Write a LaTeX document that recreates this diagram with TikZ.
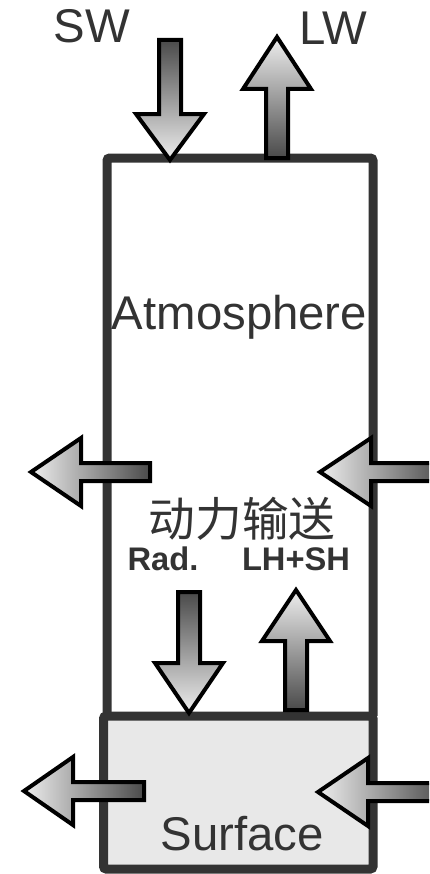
\documentclass[tikz,border=0pt]{standalone}
\usepackage{fontspec}
\setmainfont{Liberation Sans}
\newfontfamily\cjk{Noto Sans CJK SC}
\definecolor{boxc}{HTML}{333333}
\definecolor{txtc}{HTML}{333333}
\definecolor{surff}{HTML}{E8E8E8}
\definecolor{dk}{HTML}{4A4A4A}
\definecolor{lt}{HTML}{EEEEEE}
\tikzset{
  boxline/.style={draw=boxc, line width=6.75pt, rounded corners=2pt},
  arr/.style={draw=black, line width=3pt, line join=miter},
  lbl/.style={text=txtc, inner sep=0pt, font=\fontsize{35.5}{40}\selectfont},
  blbl/.style={text=txtc, inner sep=0pt, font=\fontsize{24.5}{28}\selectfont\bfseries},
}
% vertical arrow: cx, tail y, tip y, head base y ; shaft half 11, head half 34
\newcommand\varrowdn[4]{\draw[arr, top color=dk, bottom color=lt] (#1-11,#2) -- (#1+11,#2) -- (#1+11,#4) -- (#1+34,#4) -- (#1,#3) -- (#1-34,#4) -- (#1-11,#4) -- cycle;}
\newcommand\varrowup[4]{\draw[arr, bottom color=dk, top color=lt] (#1-11,#2) -- (#1+11,#2) -- (#1+11,#4) -- (#1+34,#4) -- (#1,#3) -- (#1-34,#4) -- (#1-11,#4) -- cycle;}
% horizontal left-pointing arrow: cy, tail x, tip x, head base x ; shaft half 9, head half 34
\newcommand\harrowlf[4]{\draw[arr, right color=dk, left color=lt] (#2,#1-9) -- (#2,#1+9) -- (#4,#1+9) -- (#4,#1+34) -- (#3,#1) -- (#4,#1-34) -- (#4,#1-9) -- cycle;}
\begin{document}
\begin{tikzpicture}[x=0.75pt, y=-0.75pt]
\useasboundingbox (0,0) rectangle (429,874);
\clip (0,0) rectangle (429,874);
% boxes
\draw[boxline] (107,716) -- (107,158) -- (373,158) -- (373,716);
\draw[boxline, fill=surff] (103.5,716) rectangle (373,869);
% texts
\node[lbl, anchor=base] (sw) at (92,43) {SW};
\node[lbl, anchor=base] (lw) at (333,45) {LW};
\node[lbl, anchor=base] (atm) at (239.5,329) {Atmosphere};
\node[lbl, anchor=base] (surf) at (242,850) {Surface};
\node[text=txtc, inner sep=0pt, font=\fontsize{35}{40}\selectfont\cjk] (dyn) at (242,519) {动力输送};
\node[blbl, anchor=base] (rad) at (163,570) {Rad.};
\node[blbl, anchor=base] (lhsh) at (296,570) {LH+SH};
% arrows
\varrowdn{170}{40}{160}{114}
\varrowup{277}{158}{37}{89}
\varrowdn{189}{592}{713}{663}
\varrowup{296}{710}{590}{641}
\harrowlf{472}{150}{31}{81}
\harrowlf{472}{445}{320}{371}
\harrowlf{791}{144}{24}{73}
\harrowlf{792}{445}{318}{368}
\end{tikzpicture}
\end{document}
